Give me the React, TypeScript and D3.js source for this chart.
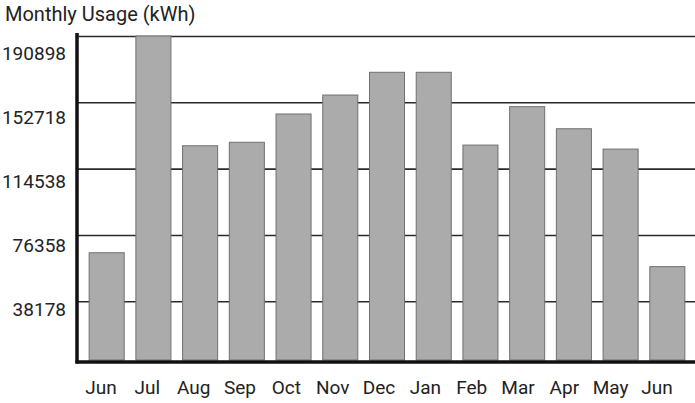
import React, { useRef, useEffect } from 'react';
import * as d3 from 'd3';

// --- DATA ---
const months = ['Jun', 'Jul', 'Aug', 'Sep', 'Oct', 'Nov', 'Dec', 'Jan', 'Feb', 'Mar', 'Apr', 'May', 'Jun'];
const usage = [66100, 190898, 127700, 129700, 146000, 156900, 170000, 170000, 128100, 150200, 137500, 125800, 58100];
const yTicks = [38178, 76358, 114538, 152718, 190898];
const title = 'Monthly Usage (kWh)';

export default function App() {
  const svgRef = useRef<SVGSVGElement>(null);

  useEffect(() => {
    if (!svgRef.current) return;
    const width = 695;
    const height = 403;
    const font = 'Roboto, "Noto Sans", sans-serif';

    const svg = d3.select(svgRef.current);
    svg.selectAll('*').remove();
    svg.attr('width', width).attr('height', height);

    svg.append('rect').attr('width', width).attr('height', height).attr('fill', '#ffffff');

    const axisX = 77;
    const baseY = 362;
    const keys = months.map((m, i) => `${m}-${i}`);

    // bars sit on a band scale, labels on a slightly tighter point scale (as scanned)
    const x = d3.scaleBand().domain(keys).range([axisX, 697]).paddingInner(0.25).paddingOuter(0.26);
    const xLabel = d3.scalePoint().domain(keys).range([101, 657]);

    const y = d3.scaleLinear().domain([3200, 190898]).range([baseY, 36]);
    const yLabel = d3.scaleLinear().domain([0, 190898]).range([373.8, 52.8]);

    // Title
    svg.append('text')
      .attr('x', 5)
      .attr('y', 20.5)
      .attr('fill', '#222')
      .style('font-family', font)
      .style('font-size', '20px')
      .text(title);

    // Gridlines (behind bars)
    svg.append('g')
      .attr('transform', `translate(${axisX},0)`)
      .call(d3.axisRight(y).tickValues(yTicks).tickSize(width - axisX).tickFormat(() => ''))
      .call(g => {
        g.select('.domain').remove();
        g.selectAll('.tick line').attr('stroke', '#2a2a2a').attr('stroke-width', 1.6);
      });

    // Bars
    svg.append('g')
      .selectAll('rect')
      .data(usage)
      .enter()
      .append('rect')
      .attr('x', (_, i) => x(keys[i]) || 0)
      .attr('y', d => y(d))
      .attr('width', x.bandwidth())
      .attr('height', d => baseY - 2 - y(d))
      .attr('fill', '#ababab')
      .attr('stroke', '#707070')
      .attr('stroke-width', 1);

    // Axis lines
    svg.append('line')
      .attr('x1', axisX).attr('x2', axisX)
      .attr('y1', 33).attr('y2', baseY + 1.5)
      .attr('stroke', '#111').attr('stroke-width', 3.5);
    svg.append('line')
      .attr('x1', axisX - 1.5).attr('x2', width)
      .attr('y1', baseY).attr('y2', baseY)
      .attr('stroke', '#111').attr('stroke-width', 3.5);

    // Y tick labels
    svg.append('g')
      .selectAll('text')
      .data(yTicks)
      .enter()
      .append('text')
      .attr('x', 66)
      .attr('y', d => yLabel(d))
      .attr('dy', '0.36em')
      .attr('text-anchor', 'end')
      .attr('fill', '#222')
      .style('font-family', font)
      .style('font-size', '19px')
      .text(d => String(d));

    // X labels
    svg.append('g')
      .selectAll('text')
      .data(keys)
      .enter()
      .append('text')
      .attr('x', d => xLabel(d) || 0)
      .attr('y', 394)
      .attr('text-anchor', 'middle')
      .attr('fill', '#222')
      .style('font-family', font)
      .style('font-size', '19px')
      .text((_, i) => months[i]);
  }, []);

  return (
    <div style={{ position: 'absolute', left: 0, top: 0 }}>
      <svg ref={svgRef} style={{ display: 'block' }}></svg>
    </div>
  );
}
